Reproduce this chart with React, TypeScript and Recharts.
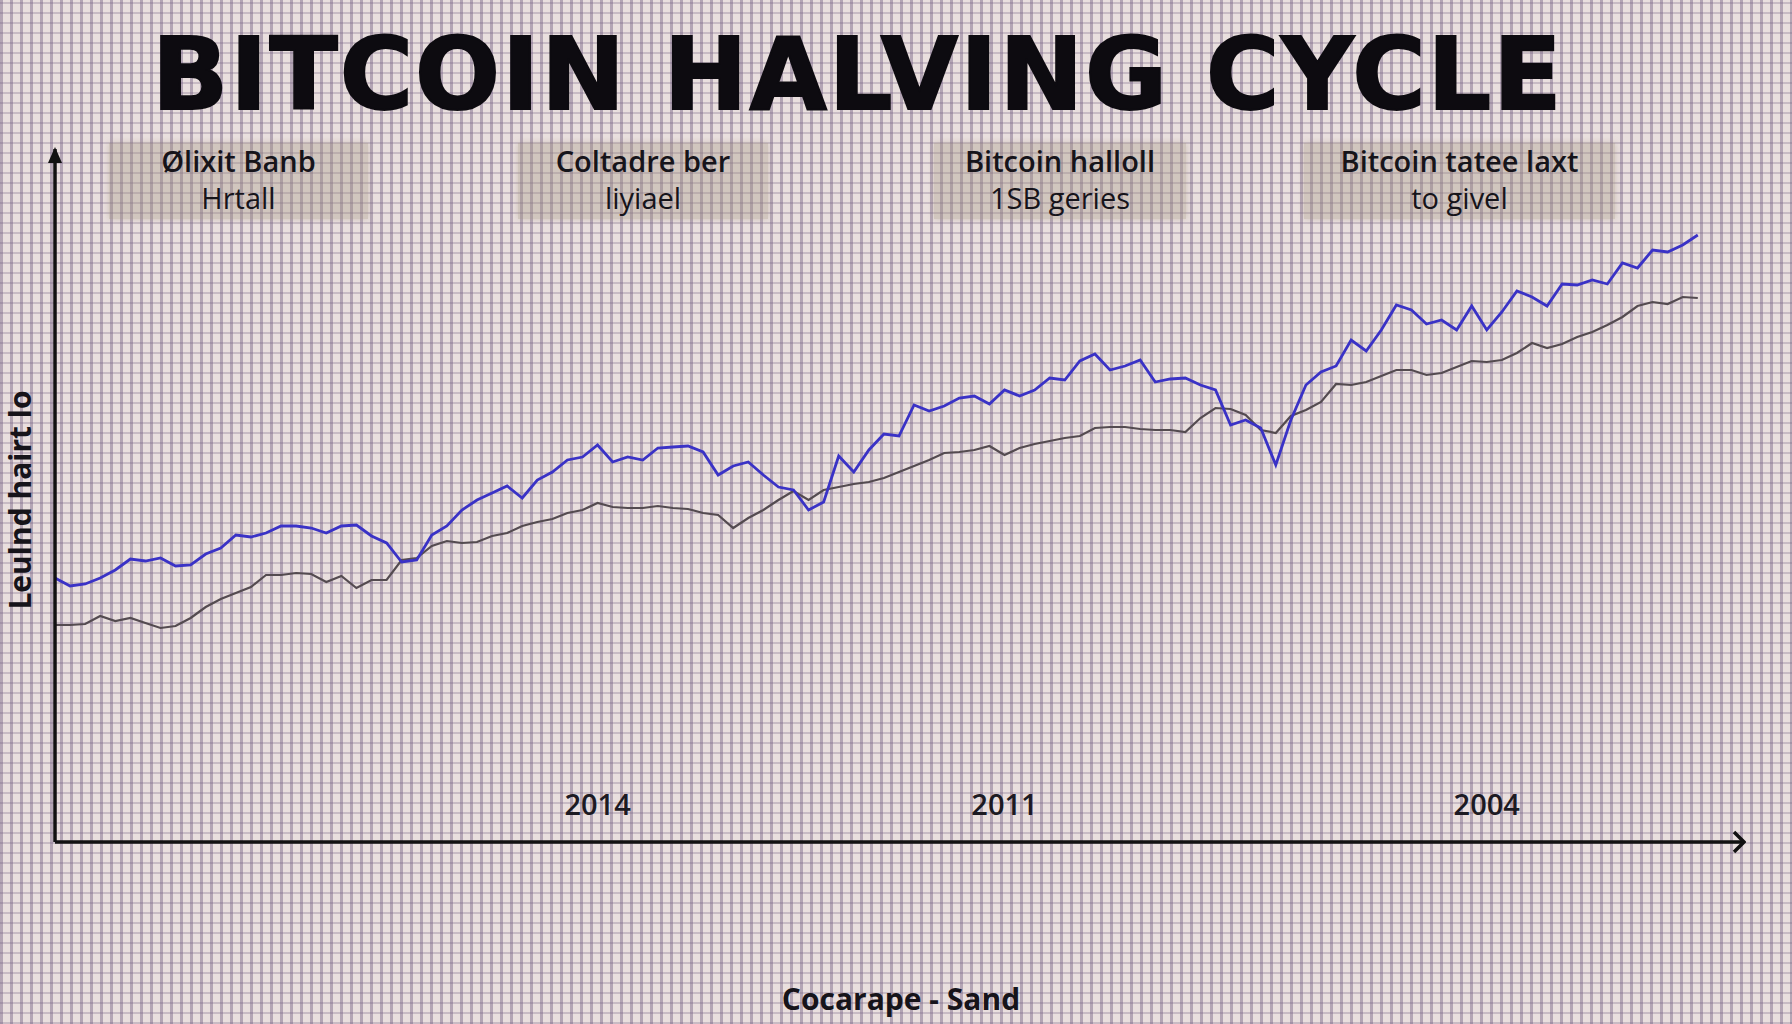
import { LineChart, Line, XAxis, YAxis } from "recharts";

// price paths (height above the time axis)
const blueSeries = [
  264, 256, 258, 264, 272, 283, 281, 284, 276, 277,
  288, 294, 307, 305, 309, 316, 316, 314, 309, 316,
  317, 306, 299, 280, 282, 307, 316, 332, 342, 349,
  356, 344, 362, 370, 382, 385, 397, 380, 385, 382,
  394, 395, 396, 390, 367, 376, 380, 367, 355, 352,
  332, 340, 386, 370, 392, 408, 406, 437, 431, 436,
  444, 446, 438, 452, 446, 452, 464, 462, 481, 488,
  472, 476, 482, 460, 463, 464, 457, 452, 417, 422,
  414, 377, 422, 457, 470, 476, 502, 491, 512, 537,
  532, 518, 522, 512, 536, 512, 530, 551, 545, 536,
  558, 557, 562, 558, 579, 574, 592, 590, 597, 607,
];

const graySeries = [
  217, 217, 218, 226, 221, 224, 219, 214, 216, 224,
  235, 243, 249, 255, 267, 267, 269, 268, 260, 266,
  254, 262, 262, 282, 284, 296, 301, 299, 300, 306,
  309, 316, 320, 323, 329, 332, 339, 335, 334, 334,
  336, 334, 333, 329, 327, 314, 324, 332, 342, 351,
  342, 352, 355, 358, 360, 364, 370, 376, 382, 389,
  390, 392, 396, 387, 394, 398, 401, 404, 406, 414,
  415, 415, 413, 412, 412, 410, 424, 434, 433, 427,
  412, 409, 426, 432, 440, 458, 457, 460, 466, 472,
  472, 467, 469, 475, 481, 480, 482, 489, 499, 494,
  498, 505, 510, 517, 525, 536, 540, 538, 545, 544,
];

const yearTicks = [36, 63, 95];
const yearLabels = ["2014", "2011", "2004"];

const noteTitles = ["Ølixit Banb", "Coltadre ber", "Bitcoin halloll", "Bitcoin tatee laxt"];
const noteSubtitles = ["Hrtall", "liyiael", "1SB geries", "to givel"];

const data = blueSeries.map((b, i) => ({ t: i, blue: b, gray: graySeries[i] }));

const FONT = "'Open Sans', 'DejaVu Sans', sans-serif";

function YearTick(props: any) {
  const { x, y, payload } = props;
  const idx = yearTicks.indexOf(payload.value);
  return (
    <text
      x={x}
      y={y - 39}
      textAnchor="middle"
      dominantBaseline="central"
      fontFamily={FONT}
      fontSize={29}
      fontWeight={600}
      fill="#1c1a22"
    >
      {idx >= 0 ? yearLabels[idx] : ""}
    </text>
  );
}

export default function App() {
  const boxes = [
    { left: 109, width: 259 },
    { left: 518, width: 250 },
    { left: 934, width: 252 },
    { left: 1304, width: 311 },
  ];
  return (
    <div
      style={{
        position: "relative",
        width: 1792,
        height: 1024,
        overflow: "hidden",
        backgroundColor: "#e9dfde",
        backgroundImage:
          "repeating-linear-gradient(90deg, rgba(115,95,130,0.45) 0px, rgba(115,95,130,0.45) 3px, transparent 3px, transparent 10px)," +
          "repeating-linear-gradient(0deg, rgba(115,95,130,0.28) 0px, rgba(115,95,130,0.28) 2px, transparent 2px, transparent 10px)",
        fontFamily: FONT,
      }}
    >
      <style>{"body{margin:0}"}</style>

      <div
        style={{
          position: "absolute",
          left: 152,
          top: 15,
          fontFamily: "'DejaVu Sans', sans-serif",
          fontWeight: 900,
          fontSize: 100,
          letterSpacing: 2,
          color: "#0d0b10",
          WebkitTextStroke: "2px #0d0b10",
          whiteSpace: "nowrap",
          lineHeight: "120px",
        }}
      >
        BITCOIN HALVING CYCLE
      </div>

      {boxes.map((b, i) => (
        <div
          key={i}
          style={{
            position: "absolute",
            left: b.left,
            top: 143,
            width: b.width,
            height: 76,
            background: "rgba(165,150,130,0.34)",
            boxShadow: "0 0 6px rgba(165,150,130,0.4)",
            textAlign: "center",
            color: "#16141a",
          }}
        >
          <div style={{ fontSize: 29, fontWeight: 600, lineHeight: "36px" }}>{noteTitles[i]}</div>
          <div style={{ fontSize: 29, fontWeight: 500, lineHeight: "38px" }}>{noteSubtitles[i]}</div>
        </div>
      ))}

      <div
        style={{
          position: "absolute",
          left: 19,
          top: 500,
          transform: "translate(-50%, -50%) rotate(-90deg)",
          fontSize: 30,
          fontWeight: 700,
          color: "#16141a",
          whiteSpace: "nowrap",
        }}
      >
        Leulnd hairt lo
      </div>

      <div
        style={{
          position: "absolute",
          left: 901,
          top: 998,
          transform: "translate(-50%, -50%)",
          fontSize: 30,
          fontWeight: 700,
          color: "#16141a",
          whiteSpace: "nowrap",
        }}
      >
        Cocarape - Sand
      </div>

      <div style={{ position: "absolute", left: 0, top: 0 }}>
        <LineChart
          width={1792}
          height={1024}
          data={data}
          margin={{ top: 149, right: 49, bottom: 181, left: 0 }}
        >
          <defs>
            <marker
              id="arrowX"
              viewBox="0 0 14 24"
              refX="11"
              refY="12"
              markerWidth="14"
              markerHeight="24"
              markerUnits="userSpaceOnUse"
              orient="auto-start-reverse"
            >
              <path d="M2,2 L12,12 L2,22" fill="none" stroke="#111" strokeWidth="3.5" />
            </marker>
            <marker
              id="arrowY"
              viewBox="0 0 20 20"
              refX="16"
              refY="10"
              markerWidth="20"
              markerHeight="20"
              markerUnits="userSpaceOnUse"
              orient="auto-start-reverse"
            >
              <path d="M2,3 L18,10 L2,17 Z" fill="#111" />
            </marker>
          </defs>
          <XAxis
            dataKey="t"
            type="number"
            domain={[0, 112]}
            ticks={yearTicks}
            tick={<YearTick />}
            tickLine={false}
            tickSize={0}
            tickMargin={0}
            height={1}
            axisLine={{ stroke: "#111", strokeWidth: 3.5, markerEnd: "url(#arrowX)" }}
          />
          <YAxis
            type="number"
            domain={[0, 693]}
            width={55}
            tick={false}
            tickLine={false}
            axisLine={{ stroke: "#111", strokeWidth: 3.5, markerStart: "url(#arrowY)" }}
          />
          <Line
            type="linear"
            dataKey="gray"
            stroke="#544b50"
            strokeWidth={2.2}
            dot={false}
            isAnimationActive={false}
          />
          <Line
            type="linear"
            dataKey="blue"
            stroke="#3a32c6"
            strokeWidth={2.8}
            dot={false}
            isAnimationActive={false}
          />
        </LineChart>
      </div>
    </div>
  );
}
